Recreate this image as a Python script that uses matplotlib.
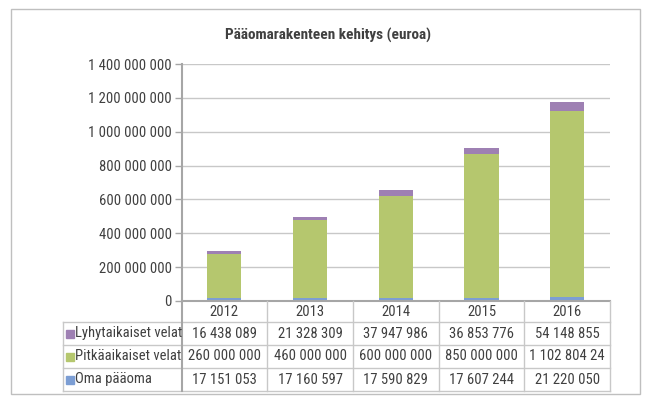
import matplotlib.pyplot as plt
import numpy as np
from matplotlib.lines import Line2D
from matplotlib.patches import Rectangle

plt.rcParams['font.family'] = ['Roboto Condensed', 'Archivo Narrow', 'DejaVu Sans']

years = ['2012', '2013', '2014', '2015', '2016']
oma = [17151053, 17160597, 17590829, 17607244, 21220050]
pitka = [260000000, 460000000, 600000000, 850000000, 1102804240]
lyhyt = [16438089, 21328309, 37947986, 36853776, 54148855]
names = ['Lyhytaikaiset velat', 'Pitkäaikaiset velat', 'Oma pääoma']

c_oma = '#7C9ED4'
c_pitka = '#B5C76E'
c_lyhyt = '#9E80B3'
grid_c = '#C8C8C8'
txt_c = '#404040'

W, H = 646, 404
fig = plt.figure(figsize=(W / 100, H / 100), dpi=100)

# plot area in pixels
L, R, T, B = 181.5, 610, 64, 301
ax = fig.add_axes([L / W, 1 - B / H, (R - L) / W, (B - T) / H])

x = np.arange(len(years))
base2 = np.array(oma)
base3 = base2 + np.array(pitka)
ax.bar(x, oma, width=0.4, color=c_oma, zorder=3)
ax.bar(x, pitka, width=0.4, bottom=base2, color=c_pitka, zorder=3)
ax.bar(x, lyhyt, width=0.4, bottom=base3, color=c_lyhyt, zorder=3)

ax.set_xlim(-0.5, len(years) - 0.5)
ax.set_ylim(0, 1400000000)
ticks = np.arange(0, 1400000001, 200000000)
ax.set_yticks(ticks)
ax.set_yticklabels([f'{t:,}'.replace(',', ' ') for t in ticks], fontsize=10.5, color=txt_c)
ax.set_xticks([])
ax.yaxis.grid(True, color=grid_c, lw=1, zorder=0)
for s in ['top', 'right', 'bottom']:
    ax.spines[s].set_visible(False)
ax.spines['left'].set_color('#A6A6A6')
ax.spines['left'].set_linewidth(1.5)
ax.tick_params(axis='y', length=5, width=1, color='#A6A6A6', pad=2)

# overlay in pixel coords for the border, title and data table
ov = fig.add_axes([0, 0, 1, 1], zorder=-1)
ov.set_xlim(0, W)
ov.set_ylim(H, 0)
ov.axis('off')
ov.add_patch(Rectangle((11, 9), 629, 385, fill=False, ec='#BFBFBF', lw=1))
ov.text(328, 35, 'Pääomarakenteen kehitys (euroa)', ha='center', va='center',
        fontsize=11, fontweight='bold', color=txt_c)

top_ov = fig.add_axes([0, 0, 1, 1], zorder=5)
top_ov.set_xlim(0, W)
top_ov.set_ylim(H, 0)
top_ov.axis('off')

colw = (R - L) / len(years)
rows_y = [301, 322, 345, 368, 391]
tl = 63
# horizontal lines
top_ov.add_line(Line2D([L, R], [rows_y[0], rows_y[0]], color='#A6A6A6', lw=1.5))
for y in rows_y[1:]:
    top_ov.add_line(Line2D([tl, R], [y, y], color=grid_c, lw=1))
# vertical lines
top_ov.add_line(Line2D([tl, tl], [rows_y[1], rows_y[-1]], color=grid_c, lw=1))
top_ov.add_line(Line2D([L, L], [rows_y[0], rows_y[-1]], color='#A6A6A6', lw=1.5))
for i in range(1, len(years) + 1):
    xx = L + i * colw
    top_ov.add_line(Line2D([xx, xx], [rows_y[0], rows_y[-1]], color=grid_c, lw=1))


def fmt(v):
    return f'{v:,}'.replace(',', ' ')[:12]


for i, yr in enumerate(years):
    cx = L + (i + 0.5) * colw
    top_ov.text(cx, (rows_y[0] + rows_y[1]) / 2, yr, ha='center', va='center',
                fontsize=10.5, color=txt_c)

series = [(names[0], lyhyt, c_lyhyt), (names[1], pitka, c_pitka), (names[2], oma, c_oma)]
for r, (name, vals, col) in enumerate(series):
    cy = (rows_y[r + 1] + rows_y[r + 2]) / 2
    top_ov.add_patch(Rectangle((66, cy - 4), 8, 8, color=col))
    top_ov.text(75, cy, name, ha='left', va='center', fontsize=10.5, color=txt_c)
    for i, v in enumerate(vals):
        cx = L + (i + 0.5) * colw
        top_ov.text(cx, cy, fmt(v), ha='center', va='center', fontsize=10.5, color=txt_c)

fig.savefig('out.png', dpi=100)
